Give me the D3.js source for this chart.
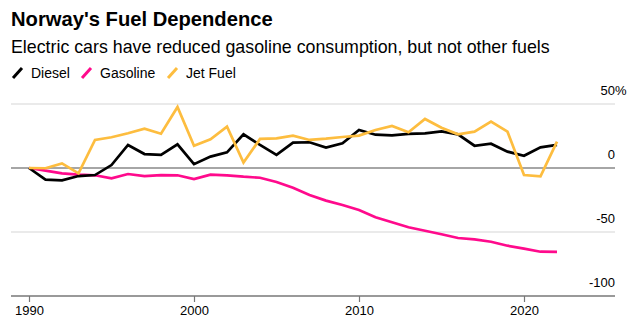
<!DOCTYPE html>
<html>
<head>
<meta charset="utf-8">
<script src="https://cdn.jsdelivr.net/npm/d3@7"></script>
<style>
  html, body { margin: 0; padding: 0; background: #fff; }
  svg { display: block; font-family: "Liberation Sans", Arial, Helvetica, sans-serif; }
</style>
</head>
<body>
<svg id="chart" width="637" height="326"></svg>
<script>
// Change in fuel consumption vs 1990 (%)
const years = d3.range(1990, 2023);
const diesel = [0, -9.1, -9.6, -6.3, -5.5, 2.3, 18, 10.9, 10.2, 18.5, 3, 8.9, 12.2, 26.3, 18, 10.2, 19.8, 20.1, 15.9, 19.3, 29.7, 26, 25.5, 26.6, 27.1, 28.6, 26.3, 17.4, 19, 12.8, 9.6, 16.1, 18];
const gasoline = [0, -2.1, -4.2, -5.2, -5.7, -8.1, -4.7, -6.3, -5.5, -5.7, -8.6, -5.2, -5.7, -6.8, -7.6, -10.9, -15.5, -21.1, -25.5, -28.9, -32.8, -38.5, -42.4, -46.3, -49, -51.8, -54.7, -55.7, -57.6, -60.7, -63, -65.4, -65.6];
const jetFuel = [0, -0.2, 3.6, -4.2, 21.9, 24, 27.1, 30.7, 26.8, 47.7, 17.4, 22.5, 32.3, 4.2, 22.7, 23.2, 25.3, 21.9, 22.9, 24.2, 25.3, 29.7, 32.8, 27.9, 38.3, 31.5, 26.3, 28.4, 36.2, 28.4, -5.5, -6.5, 20.6];

const seriesNames = ["Diesel", "Gasoline", "Jet Fuel"];
const seriesColors = ["#000000", "#ff0a8c", "#fdbd3f"];
const seriesData = [diesel, gasoline, jetFuel];

const yTicks = [50, 0, -50, -100];
const xTicks = [1990, 2000, 2010, 2020];

const svg = d3.select("#chart");

const plotLeft = 11, plotRight = 615;
const x = d3.scaleLinear().domain([1990, 2020]).range([29, 524]);
const y = d3.scaleLinear().domain([-100, 50]).range([296, 104]);

// Title and subtitle
svg.append("text")
  .attr("x", 11).attr("y", 26)
  .attr("font-size", 20.2).attr("font-weight", "bold").attr("fill", "#000")
  .text("Norway's Fuel Dependence");
svg.append("text")
  .attr("x", 11).attr("y", 53)
  .attr("font-size", 17.8).attr("fill", "#000")
  .text("Electric cars have reduced gasoline consumption, but not other fuels");

// Legend
const legendX = [12, 81, 167];
const legend = svg.append("g");
seriesNames.forEach((name, i) => {
  const g = legend.append("g").attr("transform", `translate(${legendX[i]},0)`);
  g.append("line")
    .attr("x1", 1).attr("y1", 78).attr("x2", 10).attr("y2", 68)
    .attr("stroke", seriesColors[i]).attr("stroke-width", 3);
  g.append("text")
    .attr("x", 19).attr("y", 78)
    .attr("font-size", 14).attr("fill", "#000")
    .text(name);
});

// Gridlines
const grid = svg.append("g");
yTicks.filter(v => v !== 0 && v !== -100).forEach(v => {
  grid.append("line")
    .attr("x1", plotLeft).attr("x2", plotRight)
    .attr("y1", y(v)).attr("y2", y(v))
    .attr("stroke", "#e3e3e3").attr("stroke-width", 1.3);
});

// Y labels (right side, sitting above their gridlines)
const yLab = svg.append("g").attr("font-size", 13).attr("fill", "#000");
yTicks.forEach(v => {
  yLab.append("text")
    .attr("x", plotRight).attr("y", y(v) - 9)
    .attr("text-anchor", "end")
    .text(v);
  if (v === 50) {
    yLab.append("text").attr("x", plotRight).attr("y", y(v) - 9).text("%");
  }
});

// X axis
const xAxis = d3.axisBottom(x).tickValues(xTicks).tickFormat(d3.format("d")).tickSize(6).tickSizeOuter(0);
const gx = svg.append("g").attr("transform", `translate(0,${y(-100)})`).call(xAxis);
gx.select(".domain").remove();
gx.selectAll(".tick line").attr("stroke", "#777").attr("stroke-width", 1.2);
gx.selectAll(".tick text").attr("font-size", 13).attr("fill", "#000").attr("font-family", "Liberation Sans, Arial, sans-serif").attr("y", 10).attr("dy", "0.71em");
svg.append("line")
  .attr("x1", plotLeft).attr("x2", plotRight)
  .attr("y1", y(-100)).attr("y2", y(-100))
  .attr("stroke", "#777").attr("stroke-width", 1.3);

// Zero line
svg.append("line")
  .attr("x1", plotLeft).attr("x2", plotRight)
  .attr("y1", y(0)).attr("y2", y(0))
  .attr("stroke", "#888").attr("stroke-width", 1.5);

// Series lines (gasoline, diesel, jet fuel draw order)
const line = d3.line().x((d, i) => x(years[i])).y(d => y(d));
[1, 0, 2].forEach(i => {
  svg.append("path")
    .datum(seriesData[i])
    .attr("d", line)
    .attr("fill", "none")
    .attr("stroke", seriesColors[i])
    .attr("stroke-width", 2.7)
    .attr("stroke-linejoin", "miter")
    .attr("stroke-linecap", "butt");
});
</script>
</body>
</html>
